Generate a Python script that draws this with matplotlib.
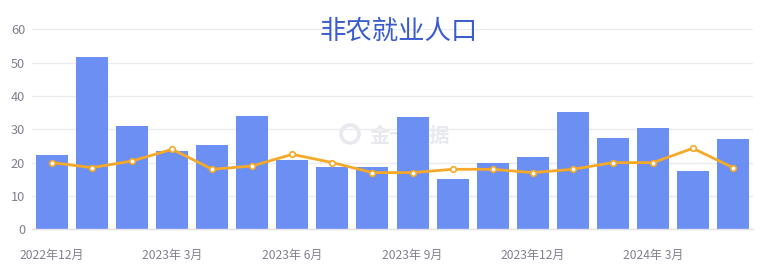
import matplotlib
matplotlib.use("Agg")
import matplotlib.pyplot as plt
from matplotlib.patches import Ellipse
import numpy as np

plt.rcParams['font.family'] = ['Noto Sans CJK SC', 'DejaVu Sans']

months = ["2022年12月", "2023年 1月", "2023年 2月", "2023年 3月", "2023年 4月", "2023年 5月",
          "2023年 6月", "2023年 7月", "2023年 8月", "2023年 9月", "2023年10月", "2023年11月",
          "2023年12月", "2024年 1月", "2024年 2月", "2024年 3月", "2024年 4月", "2024年 5月"]
actual = [22.3, 51.7, 31.1, 23.6, 25.3, 33.9, 20.9, 18.7, 18.7, 33.6, 15.0, 19.9,
          21.6, 35.3, 27.5, 30.3, 17.5, 27.2]
forecast = [20.0, 18.5, 20.5, 24.0, 18.0, 19.0, 22.5, 20.0, 17.0, 17.0, 18.0, 18.0,
            17.0, 18.0, 20.0, 20.0, 24.3, 18.5]
title = "非农就业人口"
watermark = "金十数据"

W, H = 781, 275
fig = plt.figure(figsize=(W / 100, H / 100), dpi=100)
ax = fig.add_axes([32 / W, 1 - 229.3 / H, 721 / W, 200 / H])

x = np.arange(len(months))
label_color = "#80808e"
mark_color = "#e8e9ee"

# watermark (logo ring + brand name) behind the plot
fig.text(370 / W, 1 - 135 / H, watermark, fontsize=14.5, fontweight="bold",
         color=mark_color, ha="left", va="center", zorder=0)
ring = Ellipse((350 / W, 1 - 134 / H), 18 / W, 18 / H, transform=fig.transFigure,
               fill=False, edgecolor=mark_color, linewidth=2.6, zorder=0)
fig.patches.append(ring)

ax.set_zorder(1)
ax.patch.set_alpha(0)

ax.bar(x, actual, width=0.8, color="#6b8ff3", edgecolor="none", zorder=2)
ax.plot(x, forecast, color="#f6a928", linewidth=2, zorder=3,
        marker="o", markersize=4, markerfacecolor="white", markeredgecolor="#f6a928",
        markeredgewidth=1.2)

ax.set_xlim(-0.5, len(months) - 0.5)
ax.set_ylim(0, 60)
ax.set_yticks(range(0, 61, 10))
ax.set_xticks(x[::3])
ax.set_xticklabels(months[::3])
ax.tick_params(axis="both", length=0, labelsize=8.7, labelcolor=label_color)
ax.tick_params(axis="x", pad=14)
ax.tick_params(axis="y", labelsize=9.2, pad=5)
ax.grid(axis="y", color="#ebebf0", linewidth=1, zorder=0)
ax.set_axisbelow(True)
for side in ["top", "right", "left"]:
    ax.spines[side].set_visible(False)
ax.spines["bottom"].set_color("#e2e2e8")
ax.spines["bottom"].set_linewidth(1)

fig.text(399 / W, 1 - 31 / H, title, fontsize=19, color="#3a5ccd",
         ha="center", va="center")

fig.savefig("out.png", dpi=100)
